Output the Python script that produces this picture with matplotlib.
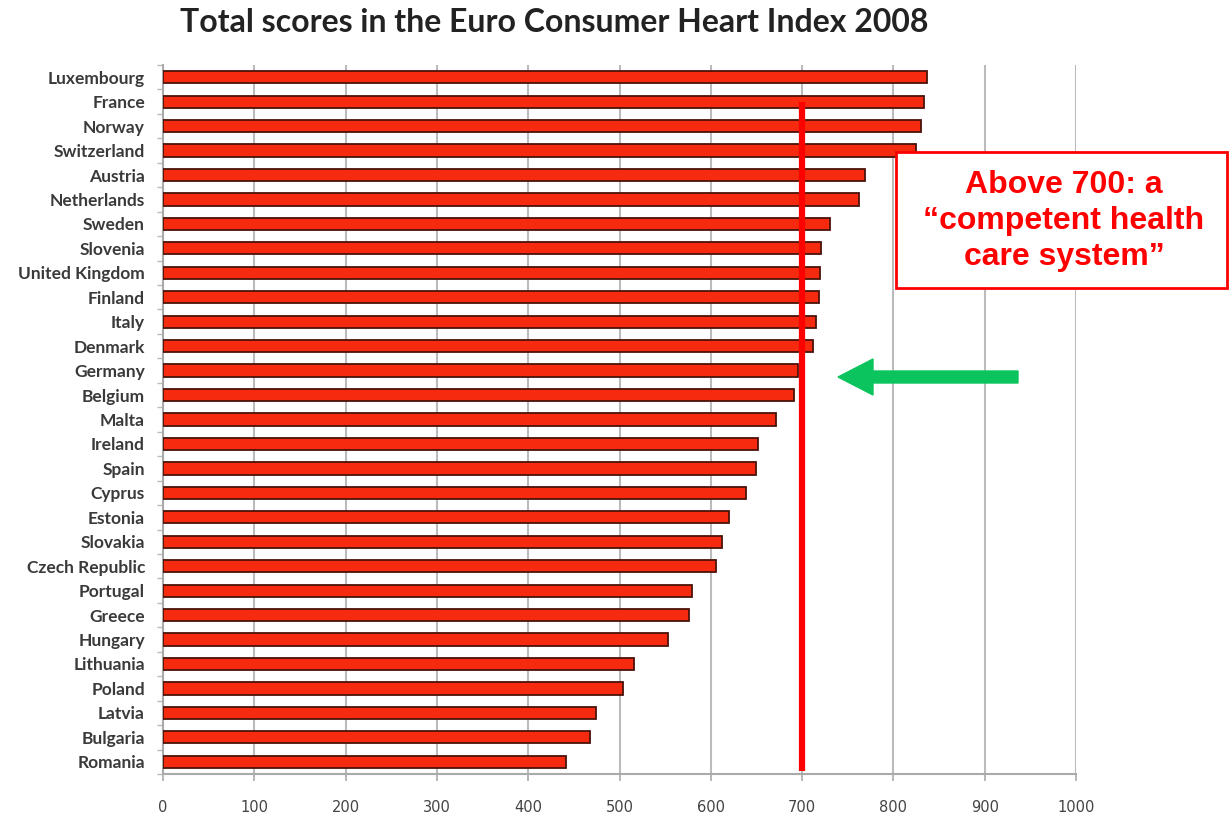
import numpy as np
import matplotlib
matplotlib.use('Agg')
import matplotlib.pyplot as plt
from matplotlib.patches import Rectangle, FancyArrow

# data (top to bottom)
countries = ['Luxembourg', 'France', 'Norway', 'Switzerland', 'Austria',
             'Netherlands', 'Sweden', 'Slovenia', 'United Kingdom', 'Finland',
             'Italy', 'Denmark', 'Germany', 'Belgium', 'Malta', 'Ireland',
             'Spain', 'Cyprus', 'Estonia', 'Slovakia', 'Czech Republic',
             'Portugal', 'Greece', 'Hungary', 'Lithuania', 'Poland', 'Latvia',
             'Bulgaria', 'Romania']
scores = [837, 834, 830, 825, 769, 762, 731, 721, 720, 718,
          715, 712, 695, 691, 671, 652, 650, 639, 620, 612, 606,
          579, 576, 553, 516, 504, 474, 468, 441]
x_ticks = [0, 100, 200, 300, 400, 500, 600, 700, 800, 900, 1000]
threshold = 700
note = 'Above 700: a\n\u201ccompetent health\ncare system\u201d'
title = 'Total scores in the Euro Consumer Heart Index 2008'

W, H = 1229, 816
fig = plt.figure(figsize=(W / 100, H / 100), dpi=100)
ax = fig.add_axes([163 / W, 1 - 774 / H, (1076 - 163) / W, (774 - 65) / H])

n = len(countries)
pos = np.arange(n)
ax.barh(pos, scores, height=0.5, color='#F52A0E', edgecolor='#4a1208',
        linewidth=1.3, zorder=3)

ax.set_xlim(0, 1000)
ax.set_ylim(n - 0.5, -0.5)

# gridlines
ax.set_xticks(x_ticks)
ax.set_xticklabels([str(t) for t in x_ticks], fontsize=10.5, color='#444444',
                   family='DejaVu Sans')
ax.tick_params(axis='x', length=5, width=1.2, color='#aaaaaa', pad=14)
ax.grid(axis='x', color='#bbbbbb', linewidth=1.5, zorder=0)

ax.set_yticks(pos)
ax.set_yticklabels(countries, fontsize=12.5, fontweight='bold', color='#3a3a3a',
                   family='Lato')
ax.tick_params(axis='y', length=0, pad=13)
ax.set_yticks(np.arange(n + 1) - 0.5, minor=True)
ax.tick_params(axis='y', which='minor', length=4, width=1.0, color='#bbbbbb')

for s in ['top', 'right']:
    ax.spines[s].set_visible(False)
for s in ['left', 'bottom']:
    ax.spines[s].set_color('#aaaaaa')
    ax.spines[s].set_linewidth(1.5)

# threshold line
ax.plot([threshold, threshold], [1.0, n - 0.62], color='#ff0000',
        linewidth=4.5, zorder=4, solid_capstyle='butt')

# title
fig.text(554 / W, 1 - 22 / H, title, ha='center', va='center', fontsize=23,
         fontweight='bold', color='#222222', family='Lato')

# annotation box
fig.patches.append(Rectangle((896 / W, 1 - 288 / H), (1227 - 896) / W,
                             (288 - 152) / H, transform=fig.transFigure,
                             facecolor='white', edgecolor='#ff0000',
                             linewidth=2, zorder=5))
fig.text(1064 / W, 1 - 221 / H, note, ha='center', va='center',
         fontsize=23, fontweight='bold', color='#ff0000',
         family='Liberation Sans', linespacing=1.27, zorder=6)

# green arrow
fig.patches.append(FancyArrow(
    1018 / W, 1 - 377 / H, -(1018 - 838) / W, 0,
    width=12 / H, head_width=36 / H, head_length=35 / W,
    length_includes_head=True, transform=fig.transFigure,
    color='#0cc45e', zorder=6))

fig.savefig('out.png', dpi=100)
